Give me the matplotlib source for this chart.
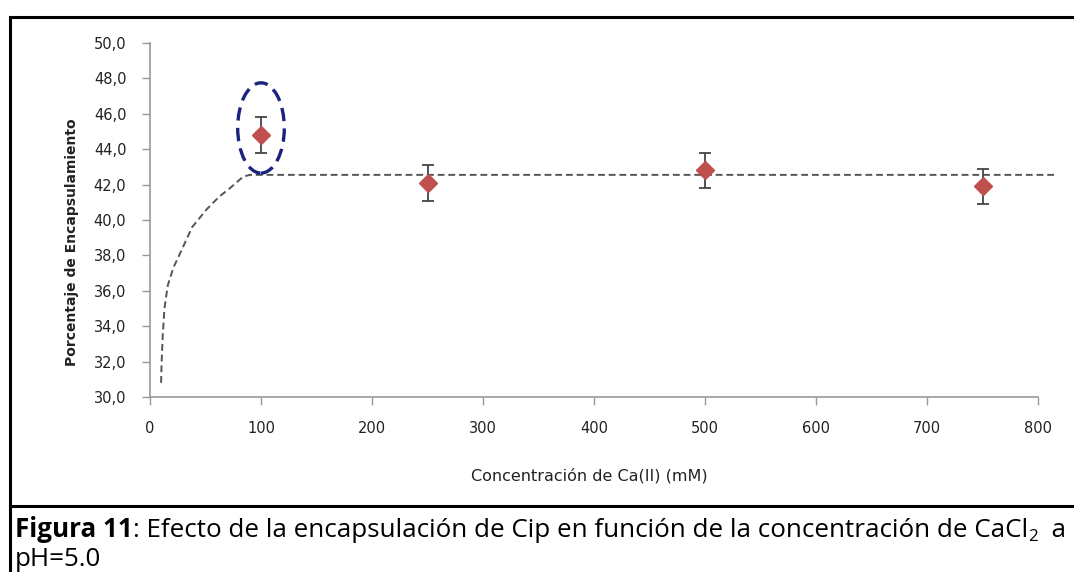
import matplotlib
matplotlib.use("Agg")
import matplotlib.pyplot as plt
from matplotlib.patches import Ellipse
from matplotlib.lines import Line2D

# encapsulation (%) vs Ca(II) concentration (mM)
conc = [100, 250, 500, 750]
encap = [44.8, 42.1, 42.8, 41.9]
encap_err = [1.0, 1.0, 1.0, 1.0]

# hand-drawn saturation trend
trend_x = [10, 10.5, 11.5, 13, 16, 21, 27, 38, 51, 62, 72, 84, 90, 815]
trend_y = [30.8, 32.0, 33.5, 35.0, 36.3, 37.3, 38.1, 39.6, 40.6, 41.3, 41.8, 42.45, 42.55, 42.55]

xticks = [0, 100, 200, 300, 400, 500, 600, 700, 800]
yticks = [30, 32, 34, 36, 38, 40, 42, 44, 46, 48, 50]

fig = plt.figure(figsize=(10.74, 5.72), dpi=100)
ax = fig.add_axes([150 / 1074, 175 / 572, 888 / 1074, 354 / 572])

ax.plot(trend_x, trend_y, color='#555555', lw=1.4, ls=(0, (3.5, 2)), clip_on=False)
ax.errorbar(conc, encap, yerr=encap_err, fmt='D', color='#c0504d', ms=9,
            ecolor='#444444', elinewidth=1.3, capsize=4, capthick=1.3, zorder=5)

# highlight the 100 mM point
ax.add_patch(Ellipse((100, 45.2), 42, 5.1, fill=False, ec='#1a237e', lw=2.4,
                     ls=(0, (4, 2.2)), zorder=6))

ax.set_xlim(0, 800)
ax.set_ylim(30, 50)
ax.set_xticks(xticks)
ax.set_yticks(yticks)
ax.set_yticklabels([f"{v:.1f}".replace('.', ',') for v in yticks])
for s in ['top', 'right']:
    ax.spines[s].set_visible(False)
for s in ['left', 'bottom']:
    ax.spines[s].set_color('#999999')
    ax.spines[s].set_linewidth(1.2)
ax.tick_params(colors='#999999', labelcolor='#222222', labelsize=10.5, length=6, width=1)
ax.tick_params(axis='x', pad=11)
ax.tick_params(axis='y', pad=11)

ax.set_xlabel('Concentración de Ca(II) (mM)', fontsize=11.5, color='#222222')
ax.set_ylabel('Porcentaje de Encapsulamiento', fontsize=10, fontweight='bold',
              color='#222222')
ax.xaxis.set_label_coords(0.495, -0.2)
ax.yaxis.set_label_coords(-0.088, 0.438)
ax.yaxis.label.set_va('center')

# frame lines around the figure and caption cell
fig.add_artist(Line2D([10 / 1074, 1], [1 - 17 / 572] * 2, color='black', lw=2.2))
fig.add_artist(Line2D([10 / 1074, 1], [1 - 506 / 572] * 2, color='black', lw=2.2))
fig.add_artist(Line2D([10 / 1074] * 2, [0, 1 - 17 / 572], color='black', lw=2.2))

# caption, bold lead followed by regular text
renderer = fig.canvas.get_renderer()
cap_font = 'Open Sans'
cap_size = 18.7
x = 15 / 1074
yb = 1 - 537 / 572
pieces = [('Figura 11', 'bold', cap_size, 0),
          (': Efecto de la encapsulación de Cip en función de la concentración de CaCl', 'normal', cap_size, 0),
          ('2', 'normal', cap_size * 0.65, -4),
          ('  a', 'normal', cap_size, 0)]
for txt, wt, sz, dy in pieces:
    t = fig.text(x, yb + dy / 572, txt, fontsize=sz, fontweight=wt, family=cap_font,
                 va='baseline', ha='left', color='black')
    bb = t.get_window_extent(renderer)
    x += bb.width / 1074
fig.text(15 / 1074, 1 - 566 / 572, 'pH=5.0', fontsize=cap_size, family=cap_font,
         va='baseline', ha='left', color='black')

fig.savefig('out.png', dpi=100)
